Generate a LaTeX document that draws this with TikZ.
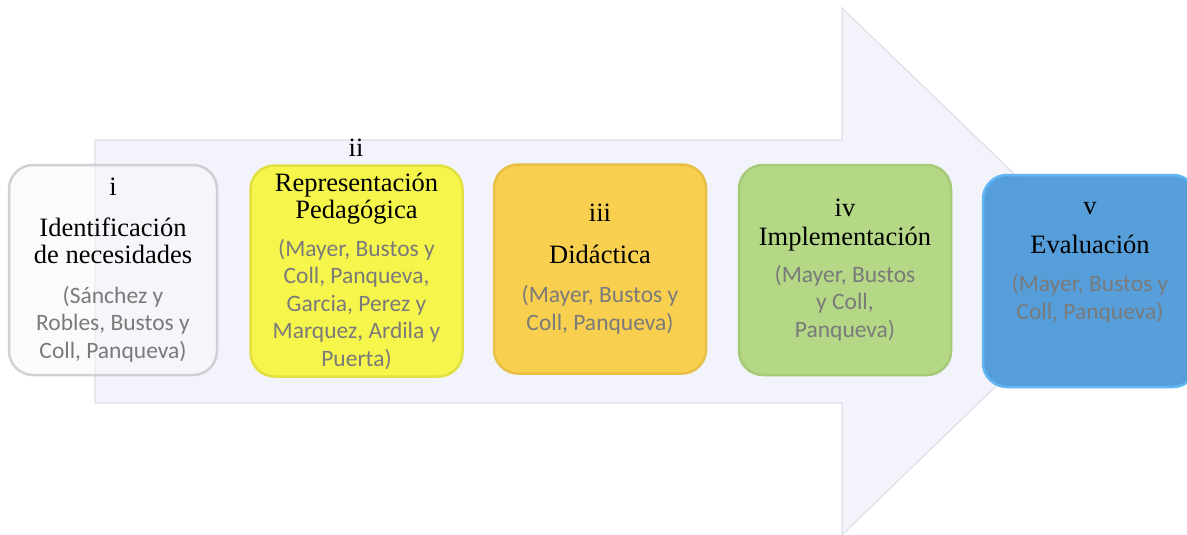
\documentclass[tikz,border=0pt]{standalone}
\usepackage{fontspec}
\setmainfont{Liberation Serif}
\newfontfamily\reffont{Carlito}
\definecolor{arrowfill}{HTML}{F3F3FB}
\definecolor{arrowedge}{HTML}{DFDFE8}
\definecolor{reftext}{HTML}{7A7A7A}
\definecolor{c1fill}{HTML}{F7F7FA}
\definecolor{c1edge}{HTML}{C6C6CC}
\definecolor{c2fill}{HTML}{F6F54C}
\definecolor{c2edge}{HTML}{E2E040}
\definecolor{c3fill}{HTML}{F8CF4F}
\definecolor{c3edge}{HTML}{E8BE45}
\definecolor{c4fill}{HTML}{B4D886}
\definecolor{c4edge}{HTML}{A6C97A}
\definecolor{c5fill}{HTML}{4A98D8}
\definecolor{c5edge}{HTML}{62B6F2}
\tikzset{
  stepbox/.style={rounded corners=24pt, align=center, inner sep=0pt, line width=2.5pt},
  titletext/.style={font=\fontsize{26.5}{27.5}\selectfont, text=black},
}
\newcommand{\myref}{\reffont\fontsize{23.5}{26.5}\selectfont\color{reftext}}
\begin{document}
\begin{tikzpicture}[x=1pt,y=-1pt]
\useasboundingbox (0,0) rectangle (1187,535);
% big arrow
\path[fill=arrowfill, draw=arrowedge, line width=1.2pt, line join=miter]
  (95,140) -- (842,140) -- (842,8) -- (1115,271) -- (842,535) -- (842,403) -- (95,403) -- cycle;
% box i
\node[stepbox, fill=c1fill, fill opacity=0.55, draw=c1edge, draw opacity=0.8, text opacity=1,
      minimum width=208pt, minimum height=210pt, titletext] (b1) at (113,270)
  {i\\[13pt]Identificación\\de necesidades\\[12pt]\myref (Sánchez y\\\myref Robles, Bustos y\\\myref Coll, Panqueva)};
% box ii
\node[stepbox, fill=c2fill, draw=c2edge, minimum width=212pt, minimum height=211pt, titletext] (b2) at (356.5,271)
  {Representación\\Pedagógica\\[10pt]\myref (Mayer, Bustos y\\\myref Coll, Panqueva,\\\myref Garcia, Perez y\\\myref Marquez, Ardila y\\\myref Puerta)};
\node[titletext, inner sep=0pt, anchor=base] (l2) at (356,157) {ii};
% box iii
\node[stepbox, fill=c3fill, draw=c3edge, minimum width=212pt, minimum height=209pt, titletext] (b3) at (600,269)
  {iii\\[14pt]Didáctica\\[12pt]\myref (Mayer, Bustos y\\\myref Coll, Panqueva)};
% box iv
\node[stepbox, fill=c4fill, draw=c4edge, minimum width=212pt, minimum height=210pt, titletext] (b4) at (845,270)
  {iv\\[2pt]Implementación\\[9pt]\myref (Mayer, Bustos\\\myref y Coll,\\\myref Panqueva)};
% box v
\node[stepbox, fill=c5fill, fill opacity=0.93, draw=c5edge, minimum width=214pt, minimum height=212pt] (b5) at (1090,281) {};
\node[titletext, align=center, inner sep=0pt] (t5) at (1090,263)
  {v\\[11pt]Evaluación\\[11pt]\myref (Mayer, Bustos y\\\myref Coll, Panqueva)};
\end{tikzpicture}
\end{document}
